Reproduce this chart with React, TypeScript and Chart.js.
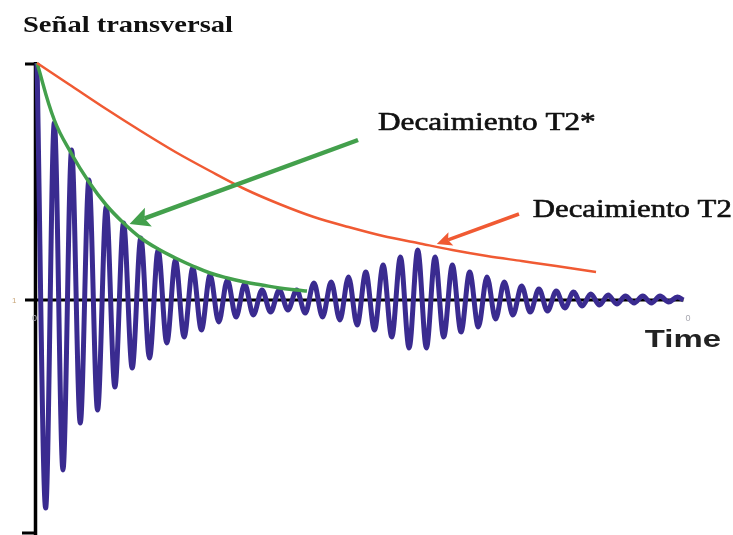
import React, { useEffect, useRef } from "react";
import { Chart, registerables } from "chart.js";

Chart.register(...registerables);

// Transverse signal: amplitude of each maximum (at t = i) and minimum (at t = i + 0.5)
const peakAmps = [237, 177, 150, 120, 93, 77, 62, 50, 40, 32, 25, 20, 16, 10, 10, 10, 17, 18, 23, 28, 35, 43, 50, 43, 35, 28, 23, 18, 14, 11, 9, 8, 6, 5, 4, 4, 4, 3];
const troughAmps = [-208, -170, -123, -110, -87, -68, -58, -43, -37, -30, -22, -17, -15, -12, -10, -13, -17, -20, -25, -30, -37, -48, -48, -37, -32, -27, -19, -15, -12, -11, -8, -6, -5, -4, -3, -3, -2];
const signalEnd = { t: 37.35, v: 0 };

// T2* decay envelope
const t2StarTimes = [0, 1, 2, 3, 4, 5, 6, 7, 8, 9, 10, 11, 12, 13, 14, 15, 15.6];
const t2StarValues = [237, 180, 146, 118, 95, 77, 62, 51, 42, 34, 27, 22, 18, 15, 12, 10, 9];

// T2 decay envelope
const t2Times = [0, 2, 4, 6, 8, 10, 12, 14, 16, 18, 20, 22, 24, 26, 28, 30, 32.3];
const t2Values = [237, 214, 191, 169, 148, 129, 111, 96, 83, 73, 64, 57, 50, 44, 39, 34, 28];

// Texts
const titleText = "Señal transversal";
const labelT2Star = "Decaimiento T2*";
const labelT2 = "Decaimiento T2";
const axisLabel = "Time";

// Annotation anchors (data units)
const arrowT2Star = { from: [18.55, 160], to: [5.35, 76] };
const arrowT2 = { from: [27.85, 86], to: [23.1, 56] };
const labelT2StarPos = [19.7, 170];
const labelT2Pos = [28.65, 83];
const axisLabelPos = [35.12, -47];

const BLUE = "#3a2b90";
const GREEN = "#43a04c";
const ORANGE = "#f05a33";

function buildSignal() {
  const pts: { x: number; y: number }[] = [];
  for (let i = 0; i < peakAmps.length; i++) {
    pts.push({ x: i, y: peakAmps[i] });
    if (i < troughAmps.length) pts.push({ x: i + 0.5, y: troughAmps[i] });
  }
  pts.push({ x: signalEnd.t, y: signalEnd.v });
  return pts;
}

function stretchText(ctx: CanvasRenderingContext2D, text: string, x: number, y: number, font: string, sx: number, color: string, stroke = 0) {
  ctx.save();
  ctx.font = font;
  ctx.fillStyle = color;
  ctx.strokeStyle = color;
  ctx.textAlign = "left";
  ctx.textBaseline = "alphabetic";
  ctx.translate(x, y);
  ctx.scale(sx, 1);
  ctx.fillText(text, 0, 0);
  if (stroke > 0) {
    ctx.lineWidth = stroke;
    ctx.lineJoin = "round";
    ctx.strokeText(text, 0, 0);
  }
  ctx.restore();
}

function drawArrow(ctx: CanvasRenderingContext2D, x1: number, y1: number, x2: number, y2: number, color: string, lw: number, headLen: number, headHalf: number) {
  const ang = Math.atan2(y2 - y1, x2 - x1);
  const bx = x2 - Math.cos(ang) * headLen * 0.8;
  const by = y2 - Math.sin(ang) * headLen * 0.8;
  ctx.save();
  ctx.strokeStyle = color;
  ctx.fillStyle = color;
  ctx.lineWidth = lw;
  ctx.lineCap = "butt";
  ctx.beginPath();
  ctx.moveTo(x1, y1);
  ctx.lineTo(bx, by);
  ctx.stroke();
  const px = -Math.sin(ang), py = Math.cos(ang);
  const hx = x2 - Math.cos(ang) * headLen;
  const hy = y2 - Math.sin(ang) * headLen;
  ctx.beginPath();
  ctx.moveTo(x2, y2);
  ctx.lineTo(hx + px * headHalf, hy + py * headHalf);
  ctx.lineTo(bx, by);
  ctx.lineTo(hx - px * headHalf, hy - py * headHalf);
  ctx.closePath();
  ctx.fill();
  ctx.restore();
}

const annotPlugin = {
  id: "annot",
  beforeDatasetsDraw(chart: any) {
    const { ctx, chartArea, scales } = chart;
    const y0 = scales.y.getPixelForValue(0);
    ctx.save();
    ctx.strokeStyle = "#000";
    ctx.lineCap = "butt";
    // vertical axis
    ctx.lineWidth = 3.5;
    ctx.beginPath();
    ctx.moveTo(chartArea.left - 1.5, chartArea.top - 1);
    ctx.lineTo(chartArea.left - 1.5, chartArea.bottom);
    ctx.stroke();
    // small ticks at top and bottom
    ctx.lineWidth = 3;
    ctx.beginPath();
    ctx.moveTo(chartArea.left - 12, chartArea.top + 1);
    ctx.lineTo(chartArea.left, chartArea.top + 1);
    ctx.moveTo(chartArea.left - 15, chartArea.bottom - 2);
    ctx.lineTo(chartArea.left - 2, chartArea.bottom - 2);
    ctx.stroke();
    // horizontal axis
    ctx.lineWidth = 3;
    ctx.beginPath();
    ctx.moveTo(chartArea.left - 12, y0);
    ctx.lineTo(scales.x.getPixelForValue(signalEnd.t), y0);
    ctx.stroke();
    ctx.restore();
    // faint tick labels
    stretchText(ctx, "1", chartArea.left - 25, y0 + 3, "8px 'Liberation Sans'", 1, "#c9a77a");
    stretchText(ctx, "0", chartArea.left - 5, y0 + 21, "9px 'Liberation Sans'", 1, "#a8a8b0");
    stretchText(ctx, "0", scales.x.getPixelForValue(signalEnd.t) + 2, y0 + 21, "9px 'Liberation Sans'", 1, "#a8a8b0");
  },
  afterDatasetsDraw(chart: any) {
    const { ctx, scales } = chart;
    const X = (v: number) => scales.x.getPixelForValue(v);
    const Y = (v: number) => scales.y.getPixelForValue(v);
    drawArrow(ctx, X(arrowT2Star.from[0]), Y(arrowT2Star.from[1]), X(arrowT2Star.to[0]), Y(arrowT2Star.to[1]), GREEN, 4.5, 20, 10);
    drawArrow(ctx, X(arrowT2.from[0]), Y(arrowT2.from[1]), X(arrowT2.to[0]), Y(arrowT2.to[1]), ORANGE, 3.5, 15, 7);
    stretchText(ctx, titleText, 23, 32, "bold 23px 'Liberation Serif'", 1.24, "#111");
    stretchText(ctx, labelT2Star, X(labelT2StarPos[0]), Y(labelT2StarPos[1]), "25px 'Liberation Serif'", 1.25, "#111", 0.6);
    stretchText(ctx, labelT2, X(labelT2Pos[0]), Y(labelT2Pos[1]), "25px 'Liberation Serif'", 1.23, "#111", 0.6);
    stretchText(ctx, axisLabel, X(axisLabelPos[0]), Y(axisLabelPos[1]), "bold 23px 'Liberation Sans'", 1.43, "#222");
  },
};

export default function App() {
  const ref = useRef<HTMLCanvasElement>(null);
  useEffect(() => {
    const chart = new Chart(ref.current as HTMLCanvasElement, {
      type: "line",
      data: {
        datasets: [
          {
            label: "T2",
            data: t2Times.map((t, i) => ({ x: t, y: t2Values[i] })),
            borderColor: ORANGE,
            borderWidth: 2.5,
            pointRadius: 0,
            cubicInterpolationMode: "monotone",
            clip: false,
            order: 1,
          },
          {
            label: "T2*",
            data: t2StarTimes.map((t, i) => ({ x: t, y: t2StarValues[i] })),
            borderColor: GREEN,
            borderWidth: 3.5,
            pointRadius: 0,
            tension: 0.4,
            clip: false,
            order: 2,
          },
          {
            label: "Señal",
            data: buildSignal(),
            borderColor: BLUE,
            borderWidth: 5,
            pointRadius: 0,
            cubicInterpolationMode: "monotone",
            clip: false,
            order: 3,
          },
        ],
      } as any,
      options: {
        responsive: false,
        devicePixelRatio: 1,
        animation: false,
        layout: { padding: { left: 37, top: 63, right: 47, bottom: 0 } },
        scales: {
          x: { type: "linear", min: 0, max: 37.5, display: false },
          y: { min: -235, max: 237, display: false },
        },
        plugins: { legend: { display: false }, tooltip: { enabled: false }, title: { display: false } },
      } as any,
      plugins: [annotPlugin],
    });
    return () => chart.destroy();
  }, []);
  return (
    <div style={{ position: "fixed", left: 0, top: 0, width: 733, height: 535, background: "#fff" }}>
      <canvas ref={ref} width={733} height={535} style={{ display: "block" }} />
    </div>
  );
}
